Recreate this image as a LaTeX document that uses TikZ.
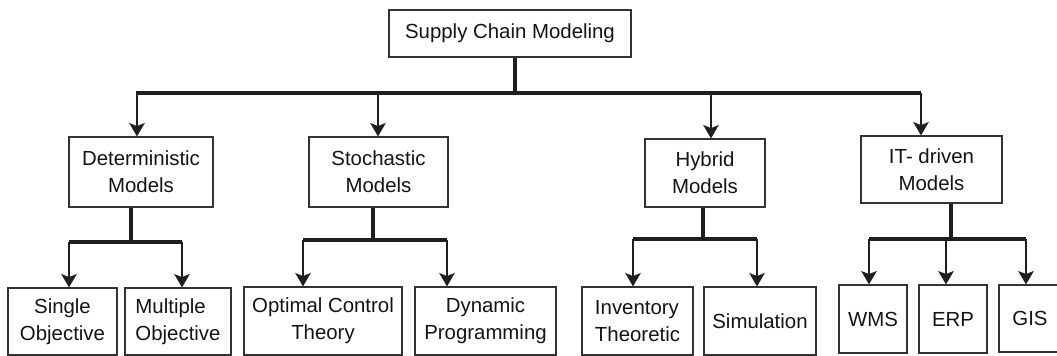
\documentclass[tikz,border=0pt]{standalone}
\usepackage{fontspec}
\setmainfont{Liberation Sans}
\usetikzlibrary{arrows.meta}
\begin{document}
\begin{tikzpicture}[x=0.75pt,y=-0.75pt,
  box/.style 2 args={draw=black!80, line width=0.8pt, fill=white, inner sep=0pt,
    minimum width=#1*0.75pt, minimum height=#2*0.75pt, align=center,
    text=black!92, font=\fontsize{15.3}{20}\selectfont},
  lbox/.style 2 args={box={#1}{#2}, align=left},
  bus/.style={line width=3pt, black!88},
  stem/.style={line width=2.6pt, black!88},
  arr/.style={line width=1.7pt, black!88, -{Stealth[length=10pt, width=11.5pt, inset=2.2pt]}},
]
\clip (0,0) rectangle (1057,356);
\fill[white] (0,0) rectangle (1057,356);

% root
\node[box={242}{47}] (root) at (510,33.5) {Supply Chain Modeling};

% second level
\node[box={144}{70}] (det) at (141,172) {Deterministic\\Models};
\node[box={139}{70}] (sto) at (378.5,172) {Stochastic\\Models};
\node[box={120}{68}] (hyb) at (705,173) {Hybrid\\Models};
\node[box={141}{67}] (itd) at (931.5,169.5) {IT- driven\\Models};

% third level
\node[box={109}{67}] (sgl) at (62.5,321.5) {Single\\Objective};
\node[lbox={106}{67}] (mul) at (178,321.5) {Multiple\\Objective};
\node[box={158}{68}] (opt) at (323,321) {Optimal Control\\Theory};
\node[box={141}{68}] (dyn) at (485.5,321) {Dynamic\\Programming};
\node[lbox={111}{68}] (inv) at (637.5,321) {Inventory\\Theoretic};
\node[box={112}{68}] (sim) at (760,321) {Simulation};
\node[box={68}{68}] (wms) at (873,319) {WMS};
\node[box={68}{68}] (erp) at (953,319) {ERP};
\node[box={62}{67}] (gis) at (1030,318.5) {GIS};

% root to second level
\coordinate (r0) at (515,93);
\coordinate (rl) at (136,93);
\coordinate (rr) at (921,93);
\coordinate (a1) at (137,93);
\coordinate (a2) at (378,93);
\coordinate (a3) at (711,93);
\coordinate (a4) at (921,93);
\draw[stem] (root.south -| r0) -- (r0);
\draw[bus] (rl) -- (rr);
\foreach \c/\n in {a1/det,a2/sto,a3/hyb,a4/itd}
  \draw[arr] (\c) -- (\c |- \n.north);

% deterministic branch
\coordinate (d0) at (131,242);
\coordinate (d1) at (69,242);
\coordinate (d2) at (182,242);
\draw[stem] (det.south -| d0) -- (d0);
\draw[bus] (d1) -- (d2);
\draw[arr] (d1) -- (d1 |- sgl.north);
\draw[arr] (d2) -- (d2 |- mul.north);

% stochastic branch
\coordinate (s0) at (373,240);
\coordinate (s1) at (303,240);
\coordinate (s2) at (447,240);
\draw[stem] (sto.south -| s0) -- (s0);
\draw[bus] (s1) -- (s2);
\draw[arr] (s1) -- (s1 |- opt.north);
\draw[arr] (s2) -- (s2 |- dyn.north);

% hybrid branch
\coordinate (h0) at (703,239);
\coordinate (h1) at (633,239);
\coordinate (h2) at (757,239);
\draw[stem] (hyb.south -| h0) -- (h0);
\draw[bus] (h1) -- (h2);
\draw[arr] (h1) -- (h1 |- inv.north);
\draw[arr] (h2) -- (h2 |- sim.north);

% IT-driven branch
\coordinate (i0) at (951,239);
\coordinate (i1) at (869,239);
\coordinate (i2) at (946,239);
\coordinate (i3) at (1026,239);
\draw[line width=3.4pt, black!88] (itd.south -| i0) -- (i0);
\draw[bus] (i1) -- (i3);
\draw[arr] (i1) -- (i1 |- wms.north);
\draw[arr] (i2) -- (i2 |- erp.north);
\draw[arr] (i3) -- (i3 |- gis.north);
\end{tikzpicture}
\end{document}
